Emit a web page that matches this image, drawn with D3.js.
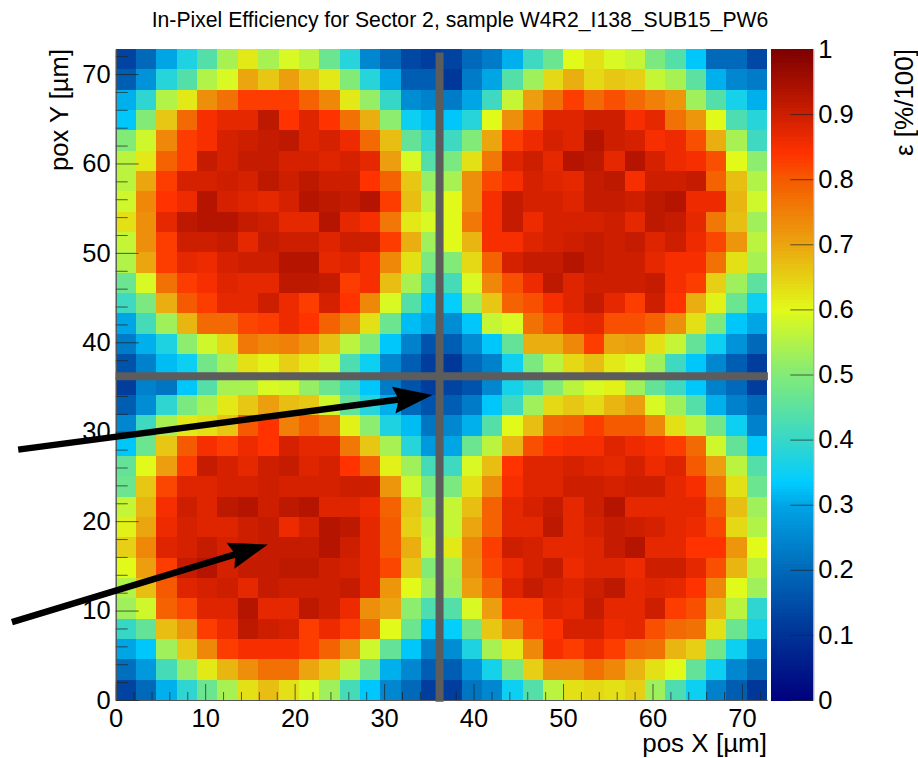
<!DOCTYPE html>
<html>
<head>
<meta charset="utf-8">
<script src="https://cdn.jsdelivr.net/npm/d3@7"></script>
<style>
	html, body { margin: 0; background: #fff; }
	text { font-family: "Liberation Sans", sans-serif; fill: #000; }
</style>
</head>
<body>
<svg id="chart" width="918" height="758"></svg>
<script>
// efficiency in 1/100 units, rows run from the top of the plot down
const topLeft = [
	[13,20,30,37,44,54,62,54,59,56,47,38,25,20,14,12],
	[18,27,38,44,55,59,70,66,71,66,62,50,38,30,18,18],
	[31,39,55,62,73,77,83,83,83,79,74,62,52,40,26,24],
	[33,50,66,78,85,87,87,92,84,88,84,77,69,51,35,32],
	[50,58,74,83,85,89,90,91,92,88,89,86,78,67,46,39],
	[56,62,79,83,91,89,91,91,89,89,88,89,87,71,59,44],
	[56,70,83,89,89,90,89,92,90,92,90,90,84,79,66,52],
	[58,74,84,86,93,89,88,87,89,93,92,91,93,83,67,56],
	[63,73,87,92,93,93,91,90,87,87,93,87,85,76,62,59],
	[57,73,83,90,90,91,87,91,90,90,88,90,90,83,69,53],
	[55,70,83,87,86,89,90,90,93,93,87,88,85,74,63,49],
	[47,59,77,83,85,88,87,87,92,92,91,83,85,67,54,42],
	[41,49,69,80,83,87,87,90,86,83,89,84,74,59,44,33],
	[30,42,53,68,78,78,82,83,86,84,79,74,63,47,32,30],
	[23,31,37,51,58,64,76,74,75,72,67,56,50,33,24,16],
	[16,24,32,35,48,54,63,61,65,62,58,43,35,25,18,12],
]
const topRight = [
	[13,20,23,31,41,47,60,63,59,57,49,44,33,20,20,14],
	[11,23,30,44,53,64,69,64,66,65,57,54,45,31,25,23],
	[23,30,41,57,71,77,83,78,81,78,75,72,53,44,36,31],
	[33,38,60,73,81,88,88,90,90,85,87,77,72,60,43,38],
	[41,50,70,83,86,89,88,93,90,89,85,86,81,69,54,41],
	[49,63,76,88,90,87,93,92,87,93,89,86,85,81,60,51],
	[54,73,82,85,89,88,87,91,92,85,90,90,91,79,67,55],
	[60,73,85,91,89,89,88,91,91,90,92,93,86,86,68,58],
	[60,76,85,91,86,89,89,89,90,87,92,91,87,76,67,53],
	[60,68,85,85,88,89,90,91,90,91,88,90,86,82,72,56],
	[50,64,79,89,91,91,93,91,90,90,87,85,85,77,63,54],
	[42,59,74,81,86,92,88,90,90,90,91,85,83,65,53,45],
	[34,53,66,79,81,85,88,91,87,83,90,84,69,61,47,35],
	[26,33,57,59,77,81,86,87,81,81,79,73,63,49,33,30],
	[18,26,33,46,69,69,74,83,70,71,63,57,46,35,27,20],
	[11,20,24,35,49,56,64,67,62,59,53,41,33,25,18,12],
]
const bottomLeft = [
	[12,24,22,33,44,54,54,59,58,52,47,41,33,23,16,12],
	[18,26,39,49,54,62,66,71,67,66,58,46,38,31,20,16],
	[25,41,54,62,63,66,80,84,75,79,76,61,51,37,32,22],
	[33,47,66,80,85,83,86,84,89,87,87,76,66,54,38,28],
	[46,60,71,83,91,89,87,90,91,88,89,84,79,61,53,42],
	[47,66,82,88,88,89,89,90,89,89,89,90,90,72,58,49],
	[57,68,85,90,88,92,93,90,92,93,88,88,86,79,66,53],
	[61,70,86,89,88,88,90,91,86,89,93,92,87,80,65,56],
	[65,74,88,89,91,89,90,91,91,91,93,90,87,80,69,57],
	[60,71,83,91,93,89,91,91,92,92,90,89,87,82,66,50],
	[55,67,80,88,89,90,87,91,90,90,90,91,87,72,60,53],
	[53,58,79,82,88,88,93,87,87,92,90,86,73,70,51,43],
	[40,46,67,72,83,86,92,90,89,83,86,83,78,60,47,33],
	[30,33,53,66,74,83,85,85,85,83,79,72,58,46,33,24],
	[21,28,42,52,62,68,73,77,77,70,66,56,47,31,25,18],
	[13,20,31,39,47,54,63,67,63,59,53,42,33,25,20,12],
]
const bottomRight = [
	[13,16,25,36,41,50,56,59,61,53,46,41,33,24,20,12],
	[18,23,33,41,53,64,66,64,68,71,59,53,44,31,24,20],
	[25,31,44,60,67,78,79,83,80,80,74,63,56,48,35,24],
	[30,47,56,68,81,84,85,85,88,86,85,83,78,58,46,33],
	[41,59,67,84,88,88,89,88,87,89,86,88,80,71,56,44],
	[49,63,73,85,88,88,90,90,89,90,90,87,85,76,63,47],
	[57,67,79,87,89,91,87,90,93,87,87,87,87,80,67,53],
	[57,70,79,87,87,92,87,89,91,90,89,87,86,82,64,55],
	[62,74,83,90,89,87,87,88,91,93,87,87,84,84,72,60],
	[54,73,82,86,89,91,86,88,88,86,90,90,87,81,68,56],
	[53,71,79,88,91,89,88,90,92,87,88,87,84,74,60,53],
	[44,59,71,83,83,88,87,91,87,87,90,83,81,68,56,39],
	[34,48,66,74,82,84,89,89,86,87,81,78,77,63,47,36],
	[26,37,54,62,74,85,83,86,83,78,77,68,65,48,35,27],
	[18,27,36,49,65,73,73,77,74,68,63,60,46,35,25,20],
	[12,22,25,35,44,56,63,64,63,65,53,43,35,24,18,11],
]

const majorTicks = [0, 10, 20, 30, 40, 50, 60, 70]
const minorTicks = d3.range(0, 73, 2).filter(d => d % 10 !== 0)
const paletteTicks = [0, 0.1, 0.2, 0.3, 0.4, 0.5, 0.6, 0.7, 0.8, 0.9, 1]

const paletteValues = [0, 0.1, 0.2, 0.3, 0.335, 0.4, 0.5, 0.6, 0.7, 0.8, 0.84, 0.9, 1]
const paletteColors = ['#00007d', '#003296', '#0069b9', '#00a5e6', '#00cdff', '#37d7c8', '#82eb78', '#e1fa19', '#eba50f', '#f55a00', '#ff3200', '#cd1e00', '#7d0000']

// separators and arrows in axis units
const cellSize = 2.275
const pitch = 36.2
const separators = [
	{ x1: pitch, y1: -0.2, x2: pitch, y2: 72.4 },
	{ x1: 0, y1: pitch, x2: 72.9, y2: pitch },
]
const arrows = [
	{ x1: -10.9, y1: 28, x2: 35.4, y2: 34.1 },
	{ x1: -11.6, y1: 8.7, x2: 17, y2: 17.4 },
]

const svg = d3.select('#chart')
const fontSize = 25.5

const x = d3.scaleLinear().domain([0, 72.8]).range([115.7, 767])
const y = d3.scaleLinear().domain([0, 72.8]).range([700, 49])
const z = d3.scaleLinear().domain(paletteValues).range(paletteColors)
const zAxis = d3.scaleLinear().domain([0, 1]).range([700, 49])

// stitch the four pixels back into one 32 x 32 matrix
const rows = [
	...topLeft.map((r, i) => r.concat(topRight[i])),
	...bottomLeft.map((r, i) => r.concat(bottomRight[i])),
]
const cells = rows.flatMap((r, row) => r.map((v, col) => ({ col, row: 31 - row, v: v / 100 })))

svg.append('g')
	.attr('shape-rendering', 'crispEdges')
	.selectAll('rect')
	.data(cells)
	.join('rect')
		.attr('x', d => x(d.col * cellSize))
		.attr('y', d => y((d.row + 1) * cellSize))
		.attr('width', x(cellSize) - x(0))
		.attr('height', y(0) - y(cellSize))
		.attr('fill', d => z(d.v))

function styleAxis(g) {
	g.selectAll('.tick line')
		.attr('stroke', '#222')
		.attr('stroke-opacity', 0.7)
	g.selectAll('.domain').attr('stroke', '#555')
	g.selectAll('text')
		.style('font-family', '"Liberation Sans", sans-serif')
		.style('font-size', `${fontSize}px`)
		.attr('fill', '#000')
}

// minor ticks first, no labels
svg.append('g')
	.attr('transform', `translate(0,${y(0)})`)
	.call(d3.axisBottom(x).tickValues(minorTicks).tickSize(-8).tickFormat('').tickSizeOuter(0))
	.call(styleAxis)
svg.append('g')
	.attr('transform', `translate(${x(0)},0)`)
	.call(d3.axisLeft(y).tickValues(minorTicks).tickSize(-12).tickFormat('').tickSizeOuter(0))
	.call(styleAxis)

svg.append('g')
	.attr('transform', `translate(0,${y(0)})`)
	.call(d3.axisBottom(x).tickValues(majorTicks).tickSize(-16).tickPadding(9).tickSizeOuter(0))
	.call(styleAxis)
svg.append('g')
	.attr('transform', `translate(${x(0)},0)`)
	.call(d3.axisLeft(y).tickValues(majorTicks).tickSize(-23).tickPadding(5).tickSizeOuter(0))
	.call(styleAxis)

// palette
const barX = 770.7
const barW = 42.6
svg.append('g')
	.attr('shape-rendering', 'crispEdges')
	.selectAll('rect')
	.data(d3.range(0, 1, 0.005))
	.join('rect')
		.attr('x', barX)
		.attr('y', d => zAxis(d + 0.005))
		.attr('width', barW)
		.attr('height', zAxis(0) - zAxis(0.005) + 0.5)
		.attr('fill', d => z(d + 0.0025))

svg.append('g')
	.attr('transform', `translate(${barX + barW},0)`)
	.call(d3.axisRight(zAxis).tickValues(paletteTicks).tickSize(0).tickPadding(5).tickFormat(d => d))
	.call(styleAxis)
	.call(g => g.selectAll('.tick line')
		.attr('x2', -23))
	.call(g => g.selectAll('.domain').attr('stroke', '#888'))

svg.selectAll('.separator')
	.data(separators)
	.join('line')
		.attr('class', 'separator')
		.attr('x1', d => x(d.x1))
		.attr('y1', d => y(d.y1))
		.attr('x2', d => x(d.x2))
		.attr('y2', d => y(d.y2))
		.attr('stroke', '#5c5c5c')
		.attr('stroke-width', 8)

arrows.forEach(a => {
	const x1 = x(a.x1)
	const y1 = y(a.y1)
	const x2 = x(a.x2)
	const y2 = y(a.y2)
	const len = Math.hypot(x2 - x1, y2 - y1)
	const ux = (x2 - x1) / len
	const uy = (y2 - y1) / len
	const bx = x2 - ux * 39
	const by = y2 - uy * 39
	const nx = x2 - ux * 34
	const ny = y2 - uy * 34

	svg.append('line')
		.attr('x1', x1)
		.attr('y1', y1)
		.attr('x2', nx)
		.attr('y2', ny)
		.attr('stroke', '#000')
		.attr('stroke-width', 6.5)
	svg.append('polygon')
		.attr('fill', '#000')
		.attr('points', [
			[x2, y2],
			[bx - uy * 13.5, by + ux * 13.5],
			[nx, ny],
			[bx + uy * 13.5, by - ux * 13.5],
		].join(' '))
})

svg.append('text')
	.attr('x', 460)
	.attr('y', 27)
	.attr('text-anchor', 'middle')
	.style('font-size', '21.2px')
	.text('In-Pixel Efficiency for Sector 2, sample W4R2_I138_SUB15_PW6')

svg.append('text')
	.attr('x', 767)
	.attr('y', 752)
	.attr('text-anchor', 'end')
	.style('font-size', '26px')
	.text('pos X [µm]')

svg.append('text')
	.attr('transform', 'translate(68,49) rotate(-90)')
	.attr('text-anchor', 'end')
	.style('font-size', '25.6px')
	.text('pox Y [µm]')

svg.append('text')
	.attr('transform', 'translate(913,49) rotate(-90)')
	.attr('text-anchor', 'end')
	.style('font-size', '26px')
	.text('ε [%/100]')
</script>
</body>
</html>
